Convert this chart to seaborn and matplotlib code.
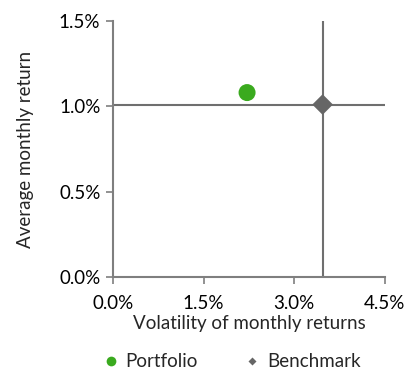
import pandas as pd
import numpy as np
import seaborn as sns
import matplotlib.pyplot as plt
from matplotlib.ticker import FuncFormatter

# data
names = ["Portfolio", "Benchmark"]
volatility = [2.22, 3.47]   # % per month
avg_return = [1.08, 1.01]   # % per month
colors = ["#3aaa1e", "#666666"]
markers = ["o", "D"]

df = pd.DataFrame({"name": names, "vol": volatility, "ret": avg_return})

sns.set_style("white")
plt.rcParams["font.family"] = ["Lato", "DejaVu Sans"]
fontsize = 13.5
axis_color = "#7f7f7f"

fig = plt.figure(figsize=(4.09, 3.79), dpi=100)
ax = fig.add_axes([0.276, 0.269, 0.665, 0.676])

# crosshair through benchmark
ax.axvline(volatility[1], color="#6f6f6f", linewidth=1.5, zorder=1)
ax.axhline(avg_return[1], color="#6f6f6f", linewidth=1.5, zorder=1)

for i in range(len(names)):
    sub = df[df["name"] == names[i]]
    sns.scatterplot(data=sub, x="vol", y="ret", color=colors[i], marker=markers[i],
                    s=150 if i == 0 else 110, edgecolor="none", zorder=3,
                    ax=ax, legend=False)

ax.set_xlim(0, 4.5)
ax.set_ylim(0, 1.5)
ax.set_xticks([0, 1.5, 3.0, 4.5])
ax.set_yticks([0, 0.5, 1.0, 1.5])
pct = FuncFormatter(lambda v, p: f"{v:.1f}%")
ax.xaxis.set_major_formatter(pct)
ax.yaxis.set_major_formatter(pct)
ax.tick_params(axis="both", direction="out", length=5, width=1.2,
               color=axis_color, labelsize=fontsize, labelcolor="#000000",
               bottom=True, left=True)
ax.tick_params(axis="x", pad=8)
ax.tick_params(axis="y", pad=4)
for side in ["top", "right"]:
    ax.spines[side].set_visible(False)
for side in ["left", "bottom"]:
    ax.spines[side].set_color(axis_color)
    ax.spines[side].set_linewidth(1.5)

ax.set_xlabel("Volatility of monthly returns", fontsize=fontsize, labelpad=2)
ax.set_ylabel("Average monthly return", fontsize=fontsize, labelpad=18)

handles = [
    plt.Line2D([], [], linestyle="none", marker="o", markersize=7,
               markerfacecolor=colors[0], markeredgecolor="none"),
    plt.Line2D([], [], linestyle="none", marker="D", markersize=4,
               markerfacecolor=colors[1], markeredgecolor="none"),
]
fig.legend(handles, names, loc="lower center", bbox_to_anchor=(0.565, -0.022),
           ncol=2, frameon=False, fontsize=fontsize, columnspacing=2.4,
           handletextpad=0.3, handlelength=1)

plt.savefig("out.png", dpi=100)
